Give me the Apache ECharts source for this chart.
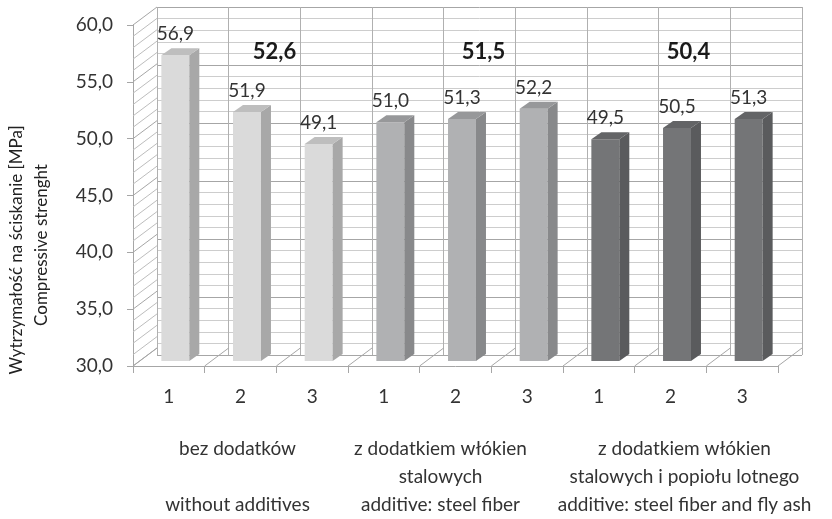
<!DOCTYPE html>
<html>
<head>
<meta charset="utf-8">
<script src="https://cdn.jsdelivr.net/npm/echarts@6/dist/echarts.min.js"></script>
<style>
  html, body { margin: 0; padding: 0; background: #fff; }
  #chart { width: 832px; height: 519px; }
</style>
</head>
<body>
<div id="chart"></div>
<script>
// dane z wykresu
var categories = ['1', '2', '3', '1', '2', '3', '1', '2', '3'];
var strength = [56.9, 51.9, 49.1, 51.0, 51.3, 52.2, 49.5, 50.5, 51.3];
var groupOf = [0, 0, 0, 1, 1, 1, 2, 2, 2];
var groupNames = [
  'bez dodatków\n\nwithout additives',
  'z dodatkiem włókien\nstalowych\nadditive: steel fiber',
  'z dodatkiem włókien\nstalowych i popiołu lotnego\nadditive: steel fiber and fly ash'
];
var groupAverages = [52.6, 51.5, 50.4];
var yMin = 30, yMax = 60, yStep = 5;

var FONT = 'Lato, "DejaVu Sans", sans-serif';
// kolory scian slupkow w grupach
var faceFront = ['#dadada', '#b0b1b3', '#747577'];
var faceSide = ['#a8a8a8', '#88898b', '#5a5b5d'];
var faceTop = ['#bebebe', '#97989a', '#636466'];
// przesuniecia 3D (px)
var DEPTH_DX = 24, DEPTH_DY = -18;
var FRONT_DX = 6.5, FRONT_DY = -5;
var BAR_DX = 10, BAR_DY = -7;
var avgShift = [34, 28, 18];

function fmt(v) {
  return v.toFixed(1).replace('.', ',');
}

var chart = echarts.init(document.getElementById('chart'), null, { renderer: 'canvas' });

// rama: sciana boczna i podloga
function renderFrame(params, api) {
  var children = [];
  var band = api.size([1, 0])[0];
  var lineStyle = { stroke: '#bdbdbd', lineWidth: 1 };
  // ukosne linie na scianie bocznej
  for (var v = yMin; v <= yMax; v += 1) {
    var p = api.coord([0, v]);
    var x = p[0] - band / 2;
    children.push({
      type: 'line',
      shape: { x1: x, y1: p[1], x2: x + DEPTH_DX, y2: p[1] + DEPTH_DY },
      style: v % yStep === 0 ? { stroke: '#a6a6a6', lineWidth: 1 } : lineStyle
    });
  }
  // ukosne linie podlogi
  for (var i = 0; i <= categories.length; i++) {
    var q = api.coord([Math.min(i, categories.length - 1), yMin]);
    var bx = i < categories.length ? q[0] - band / 2 : q[0] + band / 2;
    children.push({
      type: 'line',
      shape: { x1: bx, y1: q[1], x2: bx + DEPTH_DX, y2: q[1] + DEPTH_DY },
      style: { stroke: '#a6a6a6', lineWidth: 1 }
    });
  }
  return { type: 'group', children: children };
}

function renderBar(params, api) {
  var i = api.value(0);
  var v = api.value(1);
  var g = groupOf[i];
  var top = api.coord([i, v]);
  var base = api.coord([i, yMin]);
  var band = api.size([1, 0])[0];
  var w = band * 0.39;
  var x0 = top[0] + FRONT_DX - w / 2;
  var x1 = x0 + w;
  var yt = top[1] + FRONT_DY;
  var yb = base[1] + FRONT_DY;
  return {
    type: 'group',
    children: [
      {
        type: 'rect',
        shape: { x: x0, y: yt, width: w, height: yb - yt },
        style: { fill: faceFront[g] }
      },
      {
        type: 'polygon',
        shape: { points: [[x1, yt], [x1 + BAR_DX, yt + BAR_DY], [x1 + BAR_DX, yb + BAR_DY], [x1, yb]] },
        style: { fill: faceSide[g] }
      },
      {
        type: 'polygon',
        shape: { points: [[x0, yt], [x0 + BAR_DX, yt + BAR_DY], [x1 + BAR_DX, yt + BAR_DY], [x1, yt]] },
        style: { fill: faceTop[g] }
      },
      {
        type: 'text',
        x: x0 + w / 2,
        y: yt + BAR_DY - 14,
        style: {
          text: fmt(v),
          fill: '#333',
          font: '19px ' + FONT,
          align: 'center',
          verticalAlign: 'middle'
        }
      }
    ]
  };
}

function renderAverage(params, api) {
  var g = params.dataIndex;
  var p = api.coord([api.value(0), api.value(1)]);
  return {
    type: 'text',
    x: p[0] + avgShift[g],
    y: p[1],
    style: {
      text: fmt(groupAverages[g]),
      fill: '#1a1a1a',
      font: 'bold 22px ' + FONT,
      align: 'center',
      verticalAlign: 'middle'
    }
  };
}

var option = {
  backgroundColor: '#fff',
  animation: false,
  textStyle: { fontFamily: FONT },
  grid: [
    { left: 133, top: 25, width: 645, height: 348 },
    { left: 157, top: 7, width: 645, height: 348 }
  ],
  xAxis: [
    {
      type: 'category',
      gridIndex: 0,
      data: categories,
      axisLine: { lineStyle: { color: '#a6a6a6' } },
      axisTick: { show: true, length: 7, lineStyle: { color: '#a6a6a6' } },
      axisLabel: { margin: 21, fontSize: 19, color: '#333', fontFamily: FONT },
      splitLine: { show: false }
    },
    {
      type: 'category',
      gridIndex: 0,
      position: 'bottom',
      data: [
        { value: groupNames[0], textStyle: { padding: [0, 6, 0, 0] } },
        { value: groupNames[1], textStyle: { padding: [0, 30, 0, 0] } },
        { value: groupNames[2], textStyle: { padding: [0, 0, 0, 28] } }
      ],
      axisLine: { show: false },
      axisTick: { show: false },
      axisLabel: { margin: 69, fontSize: 19, lineHeight: 28, color: '#333', fontFamily: FONT, interval: 0 },
      splitLine: { show: false }
    },
    {
      type: 'category',
      gridIndex: 1,
      data: categories,
      axisLine: { show: false },
      axisTick: { show: false },
      axisLabel: { show: false },
      splitLine: { show: true, lineStyle: { color: '#b0b0b0', width: 1 } }
    }
  ],
  yAxis: [
    {
      type: 'value',
      gridIndex: 0,
      min: yMin,
      max: yMax,
      interval: yStep,
      axisLine: { show: true, lineStyle: { color: '#a6a6a6' } },
      axisTick: { show: true, length: 6, lineStyle: { color: '#a6a6a6' } },
      axisLabel: { margin: 20, fontSize: 19, color: '#333', fontFamily: FONT, formatter: fmt },
      splitLine: { show: false }
    },
    {
      type: 'value',
      gridIndex: 1,
      min: yMin,
      max: yMax,
      interval: yStep,
      axisLine: { show: false },
      axisTick: { show: false },
      axisLabel: { show: false },
      splitLine: { show: true, lineStyle: { color: '#a6a6a6', width: 1 } },
      minorTick: { show: false, splitNumber: 5 },
      minorSplitLine: { show: true, lineStyle: { color: '#cdcdcd', width: 1 } }
    }
  ],
  graphic: [
    {
      type: 'text',
      x: 17,
      y: 250,
      rotation: Math.PI / 2,
      style: {
        text: 'Wytrzymałość na ściskanie [MPa]',
        fill: '#222',
        font: '17px ' + FONT,
        align: 'center',
        verticalAlign: 'middle'
      }
    },
    {
      type: 'text',
      x: 42,
      y: 245,
      rotation: Math.PI / 2,
      style: {
        text: 'Compressive strenght',
        fill: '#222',
        font: '17px ' + FONT,
        align: 'center',
        verticalAlign: 'middle'
      }
    }
  ],
  series: [
    {
      type: 'custom',
      name: 'frame',
      xAxisIndex: 0,
      yAxisIndex: 0,
      clip: false,
      silent: true,
      z: 1,
      data: [[0, yMin]],
      renderItem: renderFrame
    },
    {
      type: 'custom',
      name: 'strength',
      xAxisIndex: 0,
      yAxisIndex: 0,
      clip: false,
      z: 3,
      data: strength.map(function (v, i) { return [i, v]; }),
      renderItem: renderBar
    },
    {
      type: 'custom',
      name: 'average',
      xAxisIndex: 0,
      yAxisIndex: 0,
      clip: false,
      z: 4,
      data: groupAverages.map(function (v, g) { return [g * 3 + 1, 57.6]; }),
      renderItem: renderAverage
    }
  ]
};

chart.setOption(option);
</script>
</body>
</html>
